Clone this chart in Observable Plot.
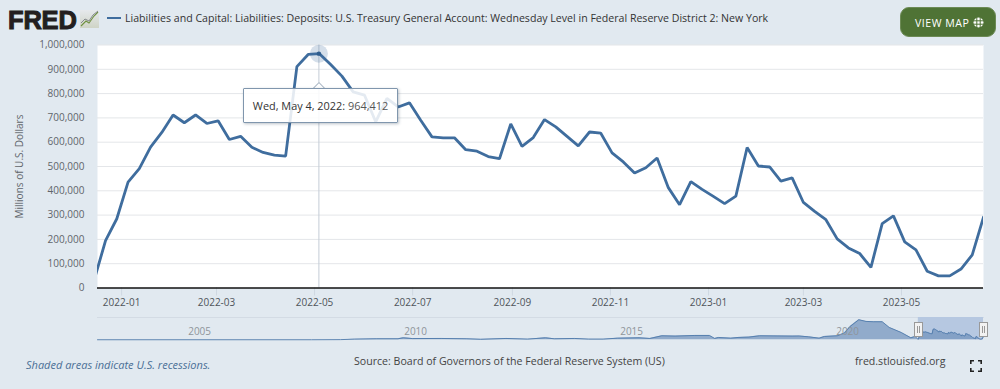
<!DOCTYPE html>
<html><head><meta charset="utf-8">
<script src="https://cdn.jsdelivr.net/npm/d3@7"></script>
<script src="https://cdn.jsdelivr.net/npm/@observablehq/plot@0.6"></script>
<style>
html,body{margin:0;padding:0;background:#e1e9f0;}
#page{position:relative;width:1000px;height:389px;overflow:hidden;background:#e1e9f0;font-family:"Open Sans",sans-serif;color:#333;}
#page>*{position:absolute;}
#main,#nav{left:0;}
#main{top:0;} #nav{top:312px;}
svg{display:block;}
.logo{left:8px;top:2px;font:900 25.5px "Liberation Sans",sans-serif;color:#231f20;-webkit-text-stroke:1px #231f20;letter-spacing:-.2px;line-height:36px;}
.swatch{left:107px;top:17px;width:14px;height:2px;background:#3f6d9e;}
.title{left:125px;top:10px;font-size:10.6px;line-height:16px;white-space:nowrap;color:#333;}
.btn{left:900px;top:7px;width:96px;height:30px;border-radius:9px;background:#4f7335;color:#fff;font-size:10.6px;letter-spacing:.5px;line-height:30px;text-indent:14px;box-sizing:border-box;border:1px solid #6c8a55;}
.foot{white-space:nowrap;font-size:10.6px;line-height:14px;}
.tip{left:243px;top:88px;width:155px;height:35px;box-sizing:border-box;background:rgba(255,255,255,.86);border:1px solid #8096ad;border-radius:1px;box-shadow:1px 1px 3px rgba(60,80,100,.35);font-size:10.9px;line-height:33px;text-align:center;white-space:nowrap;}
.tip span{color:#555;}
.arrowbox{left:311px;top:82px;width:14px;height:6px;overflow:hidden;}
.arrowbox div{position:absolute;left:2.5px;top:2px;width:8px;height:8px;background:#fff;border:1px solid #a9b6c4;transform:rotate(45deg);}
.handle{top:322px;width:7px;height:13px;background:#f2f2f2;border:1px solid #999;box-sizing:content-box;}
.handle:before{content:"";position:absolute;left:2px;top:3px;width:1px;height:7px;background:#999;box-shadow:2px 0 0 #999;}
</style></head>
<body><div id="page">
<div id="main"></div><div id="nav"></div>
<div class="logo">FRED</div>
<svg style="left:80px;top:9px" width="20" height="19"><defs><linearGradient id="g" x1="0" y1="0" x2="0" y2="1"><stop offset="0" stop-color="#e6e9ec"/><stop offset="1" stop-color="#cfd4c6"/></linearGradient></defs><rect width="19" height="18" y="1" fill="url(#g)"/><polyline points="1,17 6,12 9,14 14,7 18,3" fill="none" stroke="#6f9040" stroke-width="1.1"/><polyline points="1,14 5,10 9,12 13,6 18,2" fill="none" stroke="#85898c" stroke-width="1"/></svg>
<div class="swatch"></div>
<div class="title">Liabilities and Capital: Liabilities: Deposits: U.S. Treasury General Account: Wednesday Level in Federal Reserve District 2: New York</div>
<div class="btn">VIEW MAP</div>
<svg style="left:973px;top:17px" width="11" height="11"><circle cx="5.5" cy="5.5" r="5" fill="#fff"/><path d="M0 3.8H11M0 7.2H11M3.8 0V11M7.2 0V11" stroke="#4f7335" stroke-width="1"/></svg>
<div class="arrowbox"><div></div></div>
<div class="tip">Wed, May 4, 2022: <span>964,412</span></div>
<div class="handle" style="left:913.5px"></div>
<div class="handle" style="left:979px"></div>
<div class="foot" style="left:26px;top:358px;font-size:11px;font-style:italic;color:#4a6f96">Shaded areas indicate U.S. recessions.</div>
<div class="foot" style="left:354px;top:354px;color:#444">Source: Board of Governors of the Federal Reserve System (US)</div>
<div class="foot" style="left:855px;top:354px;color:#444">fred.stlouisfed.org</div>
<svg style="left:970px;top:360px" width="12" height="12" fill="none" stroke="#222" stroke-width="1.6"><path d="M.8 4V.8H4M8 .8H11.2V4M.8 8V11.2H4M8 11.2H11.2V8"/></svg>
</div>
<script>
const dates = ["2021-12-15","2021-12-22","2021-12-29","2022-01-05","2022-01-12","2022-01-19","2022-01-26","2022-02-02","2022-02-09","2022-02-16","2022-02-23","2022-03-02","2022-03-09","2022-03-16","2022-03-23","2022-03-30","2022-04-06","2022-04-13","2022-04-20","2022-04-27","2022-05-04","2022-05-11","2022-05-18","2022-05-25","2022-06-01","2022-06-08","2022-06-15","2022-06-22","2022-06-29","2022-07-06","2022-07-13","2022-07-20","2022-07-27","2022-08-03","2022-08-10","2022-08-17","2022-08-24","2022-08-31","2022-09-07","2022-09-14","2022-09-21","2022-09-28","2022-10-05","2022-10-12","2022-10-19","2022-10-26","2022-11-02","2022-11-09","2022-11-16","2022-11-23","2022-11-30","2022-12-07","2022-12-14","2022-12-21","2022-12-28","2023-01-04","2023-01-11","2023-01-18","2023-01-25","2023-02-01","2023-02-08","2023-02-15","2023-02-22","2023-03-01","2023-03-08","2023-03-15","2023-03-22","2023-03-29","2023-04-05","2023-04-12","2023-04-19","2023-04-26","2023-05-03","2023-05-10","2023-05-17","2023-05-24","2023-05-31","2023-06-07","2023-06-14","2023-06-21"];
const values = [34000,195000,285000,436000,491000,580000,640000,712000,680000,712000,677000,688000,611000,624000,579000,558000,547000,543000,911000,961000,964412,920000,872000,807000,794000,684000,780000,745000,762000,690000,622000,618000,618000,569000,563000,541000,532000,675000,583000,619000,693000,663000,624000,585000,642000,637000,556000,519000,473000,495000,535000,413000,343000,438000,406000,377000,347000,378000,578000,502000,498000,440000,453000,352000,315000,281000,202000,165000,142000,85000,265000,297000,190000,157000,69000,50000,50000,78000,136000,292000];
const xTicks = ["2022-01-01","2022-03-01","2022-05-01","2022-07-01","2022-09-01","2022-11-01","2023-01-01","2023-03-01","2023-05-01"];
const yTicks = [0,100000,200000,300000,400000,500000,600000,700000,800000,900000,1000000];
const viewStart = "2021-12-17", viewEnd = "2023-06-21", hovered = "2022-05-04", hoveredValue = 964412;
const navDates = ["2002-12-18","2007-12-01","2008-08-01","2008-12-01","2009-06-01","2009-12-01","2010-01-15","2010-04-01","2010-12-01","2011-07-01","2011-11-01","2012-06-01","2012-12-01","2013-05-01","2013-07-15","2014-01-01","2014-05-01","2014-09-01","2015-01-01","2015-07-01","2015-10-01","2016-01-10","2016-05-01","2016-10-15","2017-02-15","2017-04-01","2017-05-01","2017-08-15","2017-10-15","2018-01-15","2018-04-15","2019-01-15","2019-03-15","2019-06-01","2019-09-01","2019-10-15","2020-02-01","2020-04-01","2020-05-20","2020-08-01","2020-10-01","2020-12-01","2021-02-15","2021-04-15","2021-07-25","2021-10-15","2021-11-20"];
const navValues = [5000,5000,15000,60000,90000,90000,180000,110000,120000,90000,40000,120000,60000,180000,90000,120000,60000,60000,150000,180000,120000,360000,330000,390000,390000,120000,210000,150000,210000,240000,360000,330000,340000,270000,150000,300000,360000,600000,1200000,1800000,1650000,1620000,1620000,1110000,660000,180000,300000];
const navLabels = ["2005","2010","2015","2020"];
const LINE = "#3f6d9e";
const D = s => new Date(s + "T00:00:00Z");
const series = dates.map((d, i) => ({date: D(d), value: values[i]}));
const navSeries = navDates.map((d, i) => ({date: D(d), value: navValues[i]})).concat(series);

const main = Plot.plot({
  width: 1000, height: 320,
  marginLeft: 97, marginRight: 17, marginTop: 44.5, marginBottom: 32.5,
  style: {background: "transparent", fontFamily: '"Open Sans",sans-serif', fontSize: "10px", overflow: "visible"},
  x: {type: "utc", domain: [D(viewStart), D(viewEnd)]},
  y: {domain: [0, 1000000]},
  marks: [
    Plot.frame({fill: "#fff", stroke: null}),
    Plot.gridY(yTicks.slice(1), {stroke: "#e4e6e9", strokeOpacity: 1, strokeWidth: 1}),
    Plot.axisY({ticks: yTicks, tickSize: 0, tickPadding: 13, tickFormat: d3.format(","), color: "#5f656b", label: "Millions of U.S. Dollars", labelAnchor: "center", labelArrow: "none", labelOffset: 82}),
    Plot.axisX({ticks: xTicks.map(D), tickFormat: d3.utcFormat("%Y-%m"), tickSize: 8, tickPadding: 3, stroke: "#cfd8e2", color: "#4f555b", label: null}),
    Plot.ruleX([D(hovered)], {stroke: "#c4ccd6", strokeWidth: 1, dx: -.5}),
    Plot.ruleY([0], {stroke: "#111", strokeWidth: 1.5}),
    Plot.line(series, {x: "date", y: "value", stroke: LINE, strokeWidth: 2.8, clip: true, strokeLinejoin: "miter"}),
    Plot.dot([{date: D(hovered), value: hoveredValue}], {x: "date", y: "value", r: 9, dx: -.5, fill: LINE, fillOpacity: .22, stroke: null}),
    Plot.dot([{date: D(hovered), value: hoveredValue}], {x: "date", y: "value", r: 2.2, dx: -.5, fill: "#2f5d8e", stroke: null})
  ]
});
document.getElementById("main").append(main);

const nav = Plot.plot({
  width: 1000, height: 32,
  marginLeft: 97, marginRight: 17, marginTop: 5, marginBottom: 4.7,
  style: {background: "transparent", fontFamily: '"Open Sans",sans-serif', fontSize: "10px", overflow: "visible"},
  x: {type: "utc", domain: [D("2002-12-18"), D(viewEnd)], axis: null},
  y: {domain: [0, 2000000], axis: null},
  marks: [
    Plot.frame({anchor: "top", stroke: "#d3dbe4"}),
    Plot.rect([{a: D(viewStart), b: D(viewEnd)}], {x1: "a", x2: "b", fill: "#b6c8e1"}),
    Plot.areaY(navSeries, {x: "date", y: "value", fill: "#6f90bb", fillOpacity: .7}),
    Plot.lineY(navSeries, {x: "date", y: "value", stroke: "#4f7aab", strokeWidth: .9}),
    Plot.text(navLabels, {x: d => D(d + "-01-01"), y: () => 720000, dx: 14, text: d => d, fill: "#8f959b", fontSize: 10})
  ]
});
document.getElementById("nav").append(nav);
</script>
</body></html>
